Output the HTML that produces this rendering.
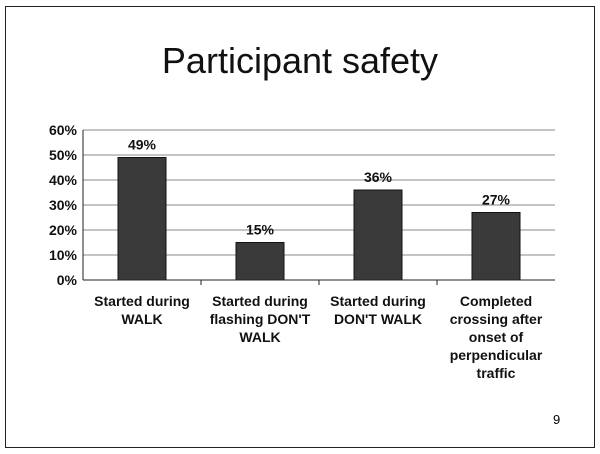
<!DOCTYPE html>
<html><head><meta charset="utf-8"><style>
body{margin:0;background:#fff;}
#wrap{position:relative;width:600px;height:454px;background:#fff;}
#frame{position:absolute;left:5px;top:6px;width:588px;height:440px;border:1px solid #222;}
#title{position:absolute;left:0;width:600px;top:40px;text-align:center;font:36px "Liberation Sans",sans-serif;color:#111;}
#pg{position:absolute;left:553px;top:412px;font:13px "Liberation Sans",sans-serif;}
svg{position:absolute;left:0;top:0}
text{font-family:"Liberation Sans",sans-serif;font-weight:bold;fill:#111}
</style></head><body>
<div id="wrap">
<div id="frame"></div>
<div id="title">Participant safety</div>
<div id="pg">9</div>
<svg id="chart" width="600" height="454"></svg>
</div>
<script>
const categories=[["Started during","WALK"],["Started during","flashing DON'T","WALK"],["Started during","DON'T WALK"],["Completed","crossing after","onset of","perpendicular","traffic"]];
const values=[49,15,36,27];
const valueLabels=["49%","15%","36%","27%"];
const tickValues=[0,10,20,30,40,50,60];
const tickLabels=["0%","10%","20%","30%","40%","50%","60%"];
const svg=document.getElementById('chart');
const NS='http://www.w3.org/2000/svg';
const X0=83,X1=555,Y0=280,Y1=130,YMAX=60;
const y=v=>Y0-(v/YMAX)*(Y0-Y1);
const cw=(X1-X0)/categories.length;
const xc=i=>X0+cw*(i+0.5);
function mk(t,a){const e=document.createElementNS(NS,t);for(const k in a)e.setAttribute(k,a[k]);svg.appendChild(e);return e;}
tickValues.forEach((v,i)=>{
 if(v>0){const g=mk('line',{x1:X0,x2:X1,y1:y(v),y2:y(v),stroke:'#888','stroke-width':1});
 
 }
 const t=mk('text',{x:X0-6,y:y(v)+5,'text-anchor':'end','font-size':14});
 t.textContent=tickLabels[i];
 
 
});
values.forEach((v,i)=>{
 const r=mk('rect',{x:xc(i)-24,y:y(v),width:48,height:Y0-y(v),fill:'#3a3a3a',stroke:'#111'});
 
 
 const t=mk('text',{x:xc(i),y:y(v)-8,'text-anchor':'middle','font-size':14});
 t.textContent=valueLabels[i];
 
 
 categories[i].forEach((ln,j)=>{
  const c=mk('text',{x:xc(i),y:306+j*18,'text-anchor':'middle','font-size':14});
  c.textContent=ln;
  
  
 });
 if(i>0){const tk=mk('line',{x1:X0+cw*i,x2:X0+cw*i,y1:Y0,y2:Y0+5,stroke:'#222'});
 
 }
});
const ax=mk('line',{x1:X0,x2:X0,y1:Y1,y2:Y0,stroke:'#222'});


const bx=mk('line',{x1:X0,x2:X1,y1:Y0,y2:Y0,stroke:'#222'});


</script>
</body></html>
